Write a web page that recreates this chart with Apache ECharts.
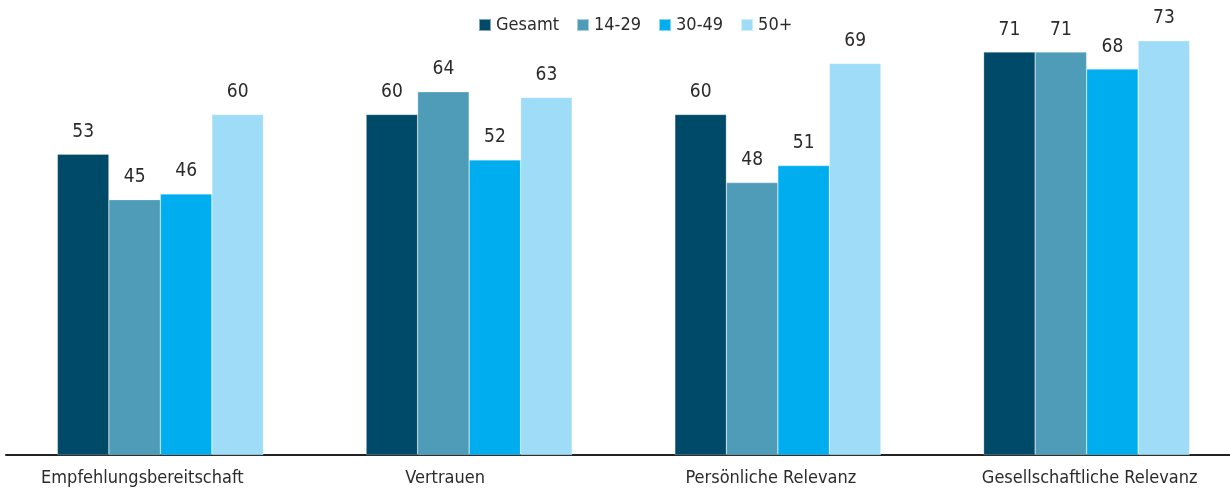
<!DOCTYPE html>
<html>
<head>
<meta charset="utf-8">
<script src="https://cdn.jsdelivr.net/npm/echarts@6/dist/echarts.min.js"></script>
<style>
  html, body { margin: 0; padding: 0; background: #fff; }
  #chart { width: 1230px; height: 491px; }
</style>
</head>
<body>
<div id="chart"></div>
<script>
// Kategorien und Werte (in Prozent)
const categories = ['Empfehlungsbereitschaft', 'Vertrauen', 'Persönliche Relevanz', 'Gesellschaftliche Relevanz'];
const seriesNames = ['Gesamt', '14-29', '30-49', '50+'];
const gesamt = [53, 60, 60, 71];
const age14to29 = [45, 64, 48, 71];
const age30to49 = [46, 52, 51, 68];
const age50plus = [60, 63, 69, 73];

const COLORS = ['#004a69', '#4f9cb9', '#00aeef', '#9fdcf7'];
const FONT = "'Liberation Sans Narrow', 'DejaVu Sans Condensed', 'Arial Narrow', 'Liberation Sans', sans-serif";

// Beschriftungen sitzen im Original leicht versetzt zur Gruppenmitte
const labelShift = [-18, -24, -7, 3];

const chart = echarts.init(document.getElementById('chart'), null, { renderer: 'canvas' });

const allValues = [gesamt, age14to29, age30to49, age50plus];

chart.setOption({
  backgroundColor: '#fff',
  animation: false,
  color: COLORS,
  textStyle: { fontFamily: FONT },
  grid: { left: 6, top: 1, width: 1235, height: 454, containLabel: false, outerBoundsMode: 'none' },
  legend: {
    left: 473,
    top: 11,
    itemWidth: 12,
    itemHeight: 12,
    itemGap: 17,
    icon: 'rect',
    data: seriesNames,
    textStyle: { fontFamily: FONT, fontSize: 18, color: '#2b2b2b' },
  },
  xAxis: {
    type: 'category',
    data: categories.map((c, i) => ({
      value: c,
      textStyle: {
        padding: labelShift[i] < 0 ? [0, -2 * labelShift[i], 0, 0] : [0, 0, 0, 2 * labelShift[i]],
      },
    })),
    axisLine: { lineStyle: { color: '#222', width: 2 } },
    axisTick: { show: false },
    axisLabel: { interval: 0, fontFamily: FONT, fontSize: 18, color: '#2b2b2b', margin: 14 },
  },
  yAxis: {
    type: 'value',
    min: 0,
    max: 80,
    show: false,
    splitLine: { show: false },
  },
  series: seriesNames.map((name, idx) => ({
    name,
    type: 'bar',
    data: allValues[idx],
    barWidth: 51.5,
    barGap: 0,
    itemStyle: { color: COLORS[idx], borderColor: 'rgba(255,255,255,0.5)', borderWidth: 0.5 },
    label: {
      show: true,
      position: 'top',
      distance: 13,
      fontFamily: FONT,
      fontSize: 19,
      color: '#2b2b2b',
    },
  })),
});
</script>
</body>
</html>
